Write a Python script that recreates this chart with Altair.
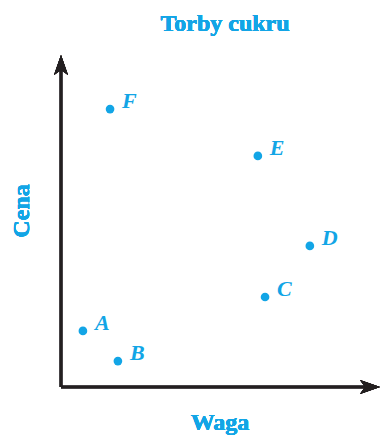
import altair as alt
import pandas as pd

labels = ["A", "B", "C", "D", "E", "F"]
waga = [0.67, 1.74, 6.24, 7.61, 6.02, 1.5]
cena = [1.69, 0.78, 2.71, 4.25, 6.96, 8.37]

df = pd.DataFrame({"label": labels, "waga": waga, "cena": cena})

BLUE = "#12a5e6"
INK = "#231f20"
FONT = "Liberation Serif"
W, H = 319, 332

xs = alt.Scale(domain=[0, 10 * W / 327])
ys = alt.Scale(domain=[0, 10])

base = alt.Chart(df)

pts = base.mark_circle(size=75, color=BLUE, opacity=1).encode(
    x=alt.X("waga:Q", scale=xs, axis=None),
    y=alt.Y("cena:Q", scale=ys, axis=None),
)
txt = base.mark_text(
    align="left", baseline="middle", dx=12, dy=-8,
    font=FONT, fontSize=22, fontStyle="italic", fontWeight="bold", color=BLUE,
).encode(
    x=alt.X("waga:Q", scale=xs, axis=None),
    y=alt.Y("cena:Q", scale=ys, axis=None),
    text="label:N",
)

xaxis = alt.Chart(df).mark_rule(color=INK, strokeWidth=2.5).encode(
    x=alt.value(0), x2=alt.value(W - 8), y=alt.value(H)
)
yaxis = alt.Chart(df).mark_rule(color=INK, strokeWidth=2.5).encode(
    x=alt.value(0), y=alt.value(8), y2=alt.value(H)
)
up = alt.Chart(df).mark_point(
    shape="M0,-1 L0.7,1 L0,0.5 L-0.7,1 Z", size=400, filled=True, color=INK, opacity=1
).encode(x=alt.value(0), y=alt.value(10))
right = alt.Chart(df).mark_point(
    shape="M1,0 L-1,0.7 L-0.5,0 L-1,-0.7 Z", size=400, filled=True, color=INK, opacity=1
).encode(x=alt.value(W - 10), y=alt.value(H))

def label(text, x, y, angle=0, baseline="middle"):
    return alt.Chart(df).mark_text(
        text=text, font=FONT, fontSize=24, fontWeight="bold",
        color=BLUE, align="center", baseline=baseline, angle=angle,
    ).encode(x=alt.value(x), y=alt.value(y))

title = label("Torby cukru", 164, -31)
xl = label("Waga", 159, H + 43, baseline="alphabetic")
yl = label("Cena", -39, 156, angle=270)

chart = alt.layer(xaxis, yaxis, up, right, pts, txt, title, xl, yl).properties(
    width=W, height=H,
    autosize=alt.AutoSizeParams(type="none"),
    padding={"left": 53, "top": 47, "right": 0, "bottom": 48},
).configure_view(stroke=None)

chart.save("out.html", embed_options={"renderer": "svg", "actions": False})
